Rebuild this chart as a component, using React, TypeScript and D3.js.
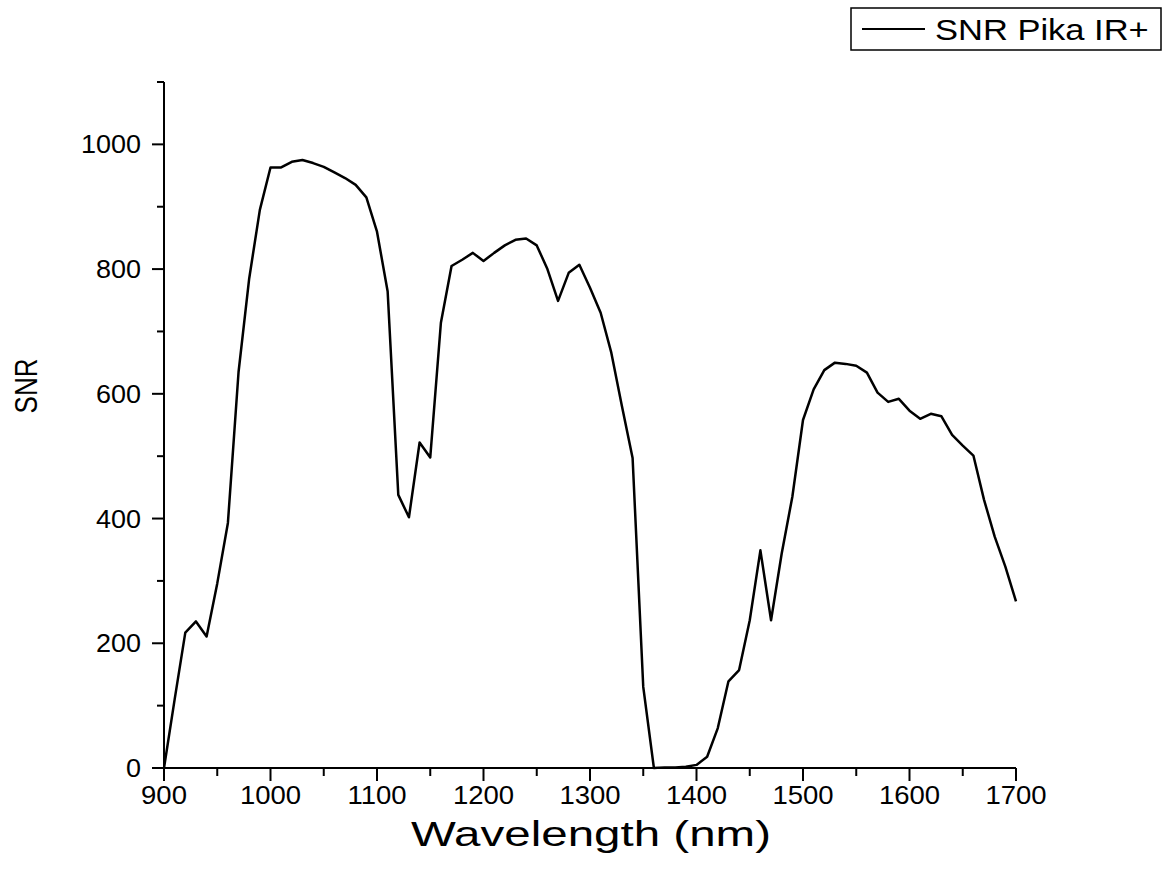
import React, { useRef, useEffect } from 'react';
import * as d3 from 'd3';

// wavelengths in nm, 10 nm steps
const wavelengths = d3.range(900, 1701, 10);

// SNR values, one per wavelength
const snrValues = [
  0, 110, 217, 235, 211, 296, 393, 635, 785, 895,
  963, 963, 972, 975, 970, 964, 955, 946, 935, 915,
  860, 764, 438, 402, 522, 498, 714, 805, 815, 826,
  813, 826, 838, 847, 849, 838, 800, 749, 794, 807,
  770, 730, 666, 580, 497, 130, 0, 1, 1, 2,
  5, 18, 64, 139, 157, 237, 349, 237, 344, 435,
  558, 607, 638, 650, 648, 645, 634, 602, 587, 592,
  573, 560, 568, 564, 534, 517, 501, 430, 371, 323,
  267,
];

const xTickLabels = [900, 1000, 1100, 1200, 1300, 1400, 1500, 1600, 1700];
const yTickLabels = [0, 200, 400, 600, 800, 1000];

const seriesName = 'SNR Pika IR+';
const xTitle = 'Wavelength (nm)';
const yTitle = 'SNR';

const SnrChart = () => {
  const chartRef = useRef<SVGSVGElement>(null);

  useEffect(() => {
    const width = 1167;
    const height = 873;
    const margin = { top: 82, right: 151, bottom: 105, left: 164 };
    const font = '"Liberation Sans", Arial, sans-serif';

    const svg = d3.select(chartRef.current);
    svg.selectAll('*').remove();
    svg.attr('width', width).attr('height', height);

    const x = d3.scaleLinear()
      .domain([900, 1700])
      .range([margin.left, width - margin.right]);

    const y = d3.scaleLinear()
      .domain([0, 1100])
      .range([height - margin.bottom, margin.top]);

    const data = wavelengths.map((w, i) => [w, snrValues[i]] as [number, number]);

    //axes
    const y0 = y(0);
    const x0 = x(900);

    const axis = svg.append('g').attr('stroke', '#000').attr('stroke-width', 2);
    axis.append('line').attr('x1', x0).attr('x2', x(1700)).attr('y1', y0).attr('y2', y0);
    axis.append('line').attr('x1', x0).attr('x2', x0).attr('y1', y0 + 1).attr('y2', y(1100));

    //x ticks, major every 100, minor every 50
    d3.range(900, 1701, 50).forEach(v => {
      const major = v % 100 === 0;
      axis.append('line')
        .attr('x1', x(v)).attr('x2', x(v))
        .attr('y1', y0).attr('y2', y0 + (major ? 13 : 8));
    });

    //y ticks, major every 200, minor every 100
    d3.range(0, 1101, 100).forEach(v => {
      const major = v % 200 === 0;
      axis.append('line')
        .attr('x1', x0).attr('x2', x0 - (major ? 12 : 7))
        .attr('y1', y(v)).attr('y2', y(v));
    });

    //tick labels (the original picture is a bit wider than tall, hence the x scale)
    xTickLabels.forEach(v => {
      svg.append('text')
        .attr('transform', `translate(${x(v)},${y0 + 36}) scale(1.1,1)`)
        .attr('text-anchor', 'middle')
        .style('font-family', font)
        .style('font-size', '25px')
        .text(v);
    });

    yTickLabels.forEach(v => {
      svg.append('text')
        .attr('transform', `translate(${x0 - 23},${y(v) + 9}) scale(1.08,1)`)
        .attr('text-anchor', 'end')
        .style('font-family', font)
        .style('font-size', '25px')
        .text(v);
    });

    //axis titles
    svg.append('text')
      .attr('transform', `translate(${(x0 + x(1700)) / 2 + 1},${y0 + 78}) scale(1.32,1)`)
      .attr('text-anchor', 'middle')
      .style('font-family', font)
      .style('font-size', '36px')
      .text(xTitle);

    svg.append('text')
      .attr('transform', `translate(37,386) scale(1.22,1) rotate(-90)`)
      .attr('text-anchor', 'middle')
      .style('font-family', font)
      .style('font-size', '26px')
      .text(yTitle);

    //the curve
    const line = d3.line<[number, number]>()
      .x(d => x(d[0]))
      .y(d => y(d[1]));

    svg.append('path')
      .datum(data)
      .attr('fill', 'none')
      .attr('stroke', '#000')
      .attr('stroke-width', 2.5)
      .attr('stroke-linejoin', 'round')
      .attr('d', line);

    //legend
    const legend = svg.append('g');
    legend.append('rect')
      .attr('x', 851).attr('y', 8)
      .attr('width', 310).attr('height', 42)
      .attr('fill', '#fff')
      .attr('stroke', '#000')
      .attr('stroke-width', 1.5);
    legend.append('line')
      .attr('x1', 862).attr('x2', 925)
      .attr('y1', 29).attr('y2', 29)
      .attr('stroke', '#000')
      .attr('stroke-width', 2);
    legend.append('text')
      .attr('transform', `translate(935,40) scale(1.15,1)`)
      .style('font-family', font)
      .style('font-size', '30px')
      .text(seriesName);
  }, []);

  return <svg ref={chartRef} style={{ position: 'absolute', left: 0, top: 0 }}></svg>;
};

export default function App() {
  return <SnrChart />;
}
